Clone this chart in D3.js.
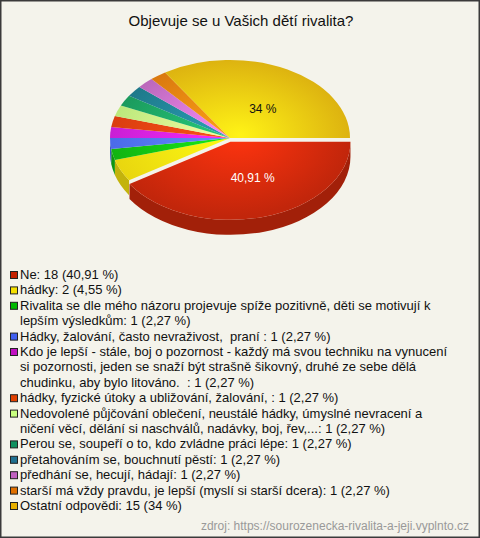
<!DOCTYPE html>
<html><head><meta charset="utf-8">
<script src="https://cdn.jsdelivr.net/npm/d3@7"></script>
<style>
html,body{margin:0;padding:0;background:#fff;}
svg{display:block;}
</style></head>
<body>
<script>
const title = "Objevuje se u Vašich dětí rivalita?";
const categories = [
  "Ne",
  "hádky",
  "Rivalita se dle mého názoru projevuje spíže pozitivně, děti se motivují k lepším výsledkům",
  "Hádky, žalování, často nevraživost,\u00a0 praní ",
  "Kdo je lepší - stále, boj o pozornost - každý má svou techniku na vynucení si pozornosti, jeden se snaží být strašně šikovný, druhé ze sebe dělá chudinku, aby bylo litováno.\u00a0 ",
  "hádky, fyzické útoky a ubližování, žalování, ",
  "Nedovolené půjčování oblečení, neustálé hádky, úmyslné nevracení a ničení věcí, dělání si naschválů, nadávky, boj, řev,...",
  "Perou se, soupeří o to, kdo zvládne práci lépe",
  "přetahováním se, bouchnutí pěstí",
  "předhání se, hecují, hádají",
  "starší má vždy pravdu, je lepší (myslí si starší dcera)",
  "Ostatní odpovědi"
];
const counts = [18, 2, 1, 1, 1, 1, 1, 1, 1, 1, 1, 15];
const percents = ["40,91 %", "4,55 %", "2,27 %", "2,27 %", "2,27 %", "2,27 %", "2,27 %", "2,27 %", "2,27 %", "2,27 %", "2,27 %", "34 %"];
const sliceLabels = ["40,91 %", "", "", "", "", "", "", "", "", "", "", "34 %"];
const colors = ["#d42a0c", "#ffea10", "#14c414", "#5274ff", "#dc22e8", "#ee4412", "#ccff88", "#1ea866", "#228497", "#cc72cc", "#ee8412", "#f2c412"];
const legendColors = ["#c42000", "#f5e000", "#00b800", "#4060f0", "#c010c0", "#e04000", "#c8ff80", "#109060", "#207090", "#c060c0", "#e07000", "#e8b000"];
const source = "zdroj: https://sourozenecka-rivalita-a-jeji.vyplnto.cz";

const W = 480, H = 538;
const FONT = "Arial, 'Liberation Sans', sans-serif";
const svg = d3.select("body").append("svg").attr("width", W).attr("height", H);
svg.append("rect").attr("x", 0.75).attr("y", 0.75).attr("width", W - 1.5).attr("height", H - 1.5)
  .attr("fill", "#f4f3eb").attr("stroke", "#3a3a3a").attr("stroke-width", 1.5);

svg.append("text").attr("x", 241).attr("y", 26).attr("text-anchor", "middle")
  .attr("font-family", FONT).attr("font-size", 15).attr("fill", "#111")
  .text(title);

// Pie
const cx = 230, cy = 138, rx = 120, ry = 78, depth = 15;
const pie = d3.pie().sort(null).value(d => d).startAngle(Math.PI / 2).endAngle(Math.PI / 2 + 2 * Math.PI);
const arcs = pie(counts);
const defs = svg.append("defs");
const explode = [4, 0, 0, 0, 0, 0, 0, 0, 0, 0, 0, 0];

arcs.forEach((a, i) => {
  a.p0 = a.startAngle - Math.PI / 2;
  a.p1 = a.endAngle - Math.PI / 2;
  const mid = (a.p0 + a.p1) / 2;
  a.dx = explode[i] * Math.cos(mid) * 0.4;
  a.dy = explode[i] * Math.sin(mid);
  const g = defs.append("radialGradient").attr("id", "g" + i)
    .attr("gradientUnits", "userSpaceOnUse")
    .attr("cx", cx).attr("cy", cy).attr("r", rx)
    .attr("fx", cx + 10).attr("fy", cy - 5)
    .attr("gradientTransform", `translate(${cx},${cy}) scale(1,${ry / rx}) translate(${-cx},${-cy})`);
  const base = d3.color(colors[i]);
  g.append("stop").attr("offset", "0%").attr("stop-color", base.brighter(0.6).formatHex());
  g.append("stop").attr("offset", "100%").attr("stop-color", base.darker(0.25).formatHex());
});

const pt = (phi, ox, oy, dz) => [cx + ox + rx * Math.cos(phi), cy + oy + dz + ry * Math.sin(phi)];

// side walls (front half only)
const sides = svg.append("g");
arcs.forEach((a, i) => {
  const s = Math.max(a.p0, 0), e = Math.min(a.p1, Math.PI);
  if (s >= e) return;
  const t0 = pt(s, a.dx, a.dy, 0), t1 = pt(e, a.dx, a.dy, 0);
  const b0 = pt(s, a.dx, a.dy, depth), b1 = pt(e, a.dx, a.dy, depth);
  const d = `M${t0}A${rx},${ry} 0 0 1 ${t1}L${b1}A${rx},${ry} 0 0 0 ${b0}Z`;
  sides.append("path").attr("d", d).attr("fill", d3.color(colors[i]).darker(0.75).formatHex());
});

// top surfaces
const tops = svg.append("g");
arcs.forEach((a, i) => {
  const c = [cx + a.dx, cy + a.dy];
  const p0 = pt(a.p0, a.dx, a.dy, 0), p1 = pt(a.p1, a.dx, a.dy, 0);
  const large = (a.p1 - a.p0) > Math.PI ? 1 : 0;
  const d = `M${c}L${p0}A${rx},${ry} 0 ${large} 1 ${p1}Z`;
  tops.append("path").attr("d", d).attr("fill", `url(#g${i})`);
});

// slice labels
arcs.forEach((a, i) => {
  if (!sliceLabels[i]) return;
  const mid = (a.p0 + a.p1) / 2;
  const f = 0.45;
  tops.append("text")
    .attr("x", cx + a.dx + f * rx * Math.cos(mid) + 7)
    .attr("y", cy + a.dy + f * ry * Math.sin(mid) + 6)
    .attr("text-anchor", "middle")
    .attr("font-family", FONT).attr("font-size", 12)
    .attr("fill", i === 0 ? "#fff" : "#111")
    .text(sliceLabels[i]);
});

// legend
const lg = svg.append("g").attr("font-family", FONT).attr("font-size", 13);
const lineH = 15.4, maxW = 436;
let y = 279;
categories.forEach((c, i) => {
  const full = `${c}: ${counts[i]} (${percents[i]})`;
  lg.append("rect").attr("x", 10.5).attr("y", y - 7.5).attr("width", 7).attr("height", 7)
    .attr("fill", legendColors[i]).attr("stroke", "#222").attr("stroke-width", 1);
  const words = full.split(" ");
  let line = "";
  const tmp = lg.append("text").attr("x", 20).attr("y", y).attr("fill", "#111").attr("xml:space", "preserve");
  const lines = [];
  words.forEach(w => {
    const test = line ? line + " " + w : w;
    tmp.text(test);
    if (tmp.node().getComputedTextLength() > maxW && line) {
      lines.push(line);
      line = w;
    } else line = test;
  });
  lines.push(line);
  tmp.remove();
  lines.forEach(l => {
    lg.append("text").attr("x", 20).attr("y", y).attr("fill", "#111").attr("xml:space", "preserve").text(l);
    y += lineH;
  });
});

svg.append("text").attr("x", 469).attr("y", 530).attr("text-anchor", "end")
  .attr("font-family", FONT).attr("font-size", 12).attr("fill", "#999")
  .text(source);
</script>
</body></html>
